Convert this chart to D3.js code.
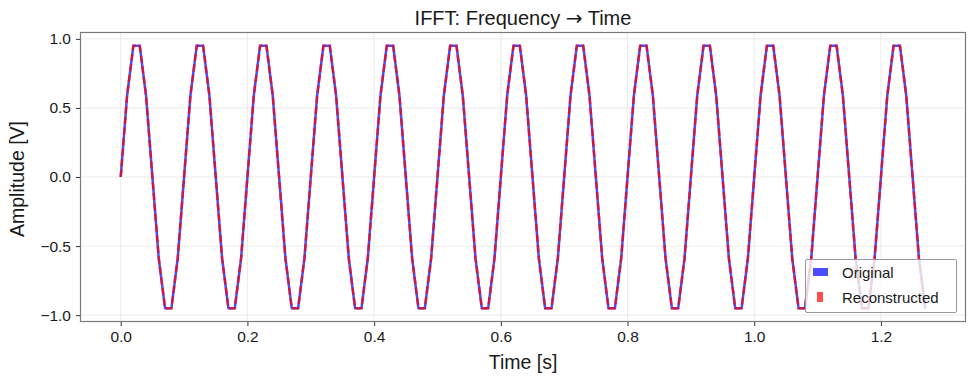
<!DOCTYPE html>
<html>
<head>
<meta charset="utf-8">
<script src="https://cdn.jsdelivr.net/npm/d3@7"></script>
<style>
html,body{margin:0;padding:0;background:#fff;}
svg{display:block;font-family:"Liberation Sans",Arial,sans-serif;}
</style>
</head>
<body>
<svg id="chart" width="974" height="383"></svg>
<script>
const time = [
0.00,0.01,0.02,0.03,0.04,0.05,0.06,0.07,0.08,0.09,
0.10,0.11,0.12,0.13,0.14,0.15,0.16,0.17,0.18,0.19,
0.20,0.21,0.22,0.23,0.24,0.25,0.26,0.27,0.28,0.29,
0.30,0.31,0.32,0.33,0.34,0.35,0.36,0.37,0.38,0.39,
0.40,0.41,0.42,0.43,0.44,0.45,0.46,0.47,0.48,0.49,
0.50,0.51,0.52,0.53,0.54,0.55,0.56,0.57,0.58,0.59,
0.60,0.61,0.62,0.63,0.64,0.65,0.66,0.67,0.68,0.69,
0.70,0.71,0.72,0.73,0.74,0.75,0.76,0.77,0.78,0.79,
0.80,0.81,0.82,0.83,0.84,0.85,0.86,0.87,0.88,0.89,
0.90,0.91,0.92,0.93,0.94,0.95,0.96,0.97,0.98,0.99,
1.00,1.01,1.02,1.03,1.04,1.05,1.06,1.07,1.08,1.09,
1.10,1.11,1.12,1.13,1.14,1.15,1.16,1.17,1.18,1.19,
1.20,1.21,1.22,1.23,1.24,1.25,1.26,1.27];

const original = [
0,0.588,0.951,0.951,0.588,0,-0.588,-0.951,-0.951,-0.588,
0,0.588,0.951,0.951,0.588,0,-0.588,-0.951,-0.951,-0.588,
0,0.588,0.951,0.951,0.588,0,-0.588,-0.951,-0.951,-0.588,
0,0.588,0.951,0.951,0.588,0,-0.588,-0.951,-0.951,-0.588,
0,0.588,0.951,0.951,0.588,0,-0.588,-0.951,-0.951,-0.588,
0,0.588,0.951,0.951,0.588,0,-0.588,-0.951,-0.951,-0.588,
0,0.588,0.951,0.951,0.588,0,-0.588,-0.951,-0.951,-0.588,
0,0.588,0.951,0.951,0.588,0,-0.588,-0.951,-0.951,-0.588,
0,0.588,0.951,0.951,0.588,0,-0.588,-0.951,-0.951,-0.588,
0,0.588,0.951,0.951,0.588,0,-0.588,-0.951,-0.951,-0.588,
0,0.588,0.951,0.951,0.588,0,-0.588,-0.951,-0.951,-0.588,
0,0.588,0.951,0.951,0.588,0,-0.588,-0.951,-0.951,-0.588,
0,0.588,0.951,0.951,0.588,0,-0.588,-0.951];

const reconstructed = [
0,0.588,0.951,0.951,0.588,0,-0.588,-0.951,-0.951,-0.588,
0,0.588,0.951,0.951,0.588,0,-0.588,-0.951,-0.951,-0.588,
0,0.588,0.951,0.951,0.588,0,-0.588,-0.951,-0.951,-0.588,
0,0.588,0.951,0.951,0.588,0,-0.588,-0.951,-0.951,-0.588,
0,0.588,0.951,0.951,0.588,0,-0.588,-0.951,-0.951,-0.588,
0,0.588,0.951,0.951,0.588,0,-0.588,-0.951,-0.951,-0.588,
0,0.588,0.951,0.951,0.588,0,-0.588,-0.951,-0.951,-0.588,
0,0.588,0.951,0.951,0.588,0,-0.588,-0.951,-0.951,-0.588,
0,0.588,0.951,0.951,0.588,0,-0.588,-0.951,-0.951,-0.588,
0,0.588,0.951,0.951,0.588,0,-0.588,-0.951,-0.951,-0.588,
0,0.588,0.951,0.951,0.588,0,-0.588,-0.951,-0.951,-0.588,
0,0.588,0.951,0.951,0.588,0,-0.588,-0.951,-0.951,-0.588,
0,0.588,0.951,0.951,0.588,0,-0.588,-0.951];

const xTicks = [0.0,0.2,0.4,0.6,0.8,1.0,1.2];
const yTicks = [-1.0,-0.5,0.0,0.5,1.0];
const seriesNames = ["Original","Reconstructed"];
const titleParts = ["IFFT: Frequency ", "\u2192", " Time"];
const xLabel = "Time [s]";
const yLabel = "Amplitude [V]";

const svg = d3.select("#chart");
const L = 80.5, R = 965.5, T = 32.5, B = 321.5;

const xMin = d3.min(time), xMax = d3.max(time);
const xPad = (xMax - xMin) * 0.05;
const yMin = Math.min(d3.min(original), d3.min(reconstructed));
const yMax = Math.max(d3.max(original), d3.max(reconstructed));
const yPad = (yMax - yMin) * 0.05;

const x = d3.scaleLinear().domain([xMin - xPad, xMax + xPad]).range([L, R]);
const y = d3.scaleLinear().domain([yMin - yPad, yMax + yPad]).range([B, T]);

// grid
const grid = svg.append("g");
grid.selectAll("line.gx").data(xTicks).join("line")
  .attr("x1", d => x(d)).attr("x2", d => x(d)).attr("y1", T).attr("y2", B)
  .attr("stroke", "#e6e6e6").attr("stroke-width", 0.8);
grid.selectAll("line.gy").data(yTicks).join("line")
  .attr("y1", d => y(d)).attr("y2", d => y(d)).attr("x1", L).attr("x2", R)
  .attr("stroke", "#e6e6e6").attr("stroke-width", 0.8);

// lines
svg.append("clipPath").attr("id","clp").append("rect")
  .attr("x", L).attr("y", T).attr("width", R-L).attr("height", B-T);
const line = d3.line().x(d => x(d[0])).y(d => y(d[1]));
const plot = svg.append("g").attr("clip-path","url(#clp)");
plot.append("path").datum(time.map((t,i)=>[t, original[i]]))
  .attr("d", line).attr("fill","none").attr("stroke","blue")
  .attr("stroke-opacity",0.7).attr("stroke-width",2.5).attr("stroke-linejoin","round");
plot.append("path").datum(time.map((t,i)=>[t, reconstructed[i]]))
  .attr("d", line).attr("fill","none").attr("stroke","red")
  .attr("stroke-opacity",0.7).attr("stroke-width",2.5)
  .attr("stroke-dasharray","7.4,3.2");

// axes
const fmt = d3.format(".1f");
const minusFmt = d => fmt(d).replace("-", "\u2212");
const xAxis = d3.axisBottom(x).tickValues(xTicks).tickFormat(minusFmt).tickSize(4.5).tickPadding(5);
const yAxis = d3.axisLeft(y).tickValues(yTicks).tickFormat(minusFmt).tickSize(4.5).tickPadding(5);
const gx = svg.append("g").attr("transform", `translate(0,${B})`).call(xAxis);
const gy = svg.append("g").attr("transform", `translate(${L},0)`).call(yAxis);
[gx, gy].forEach(g => {
  g.select(".domain").remove();
  g.selectAll(".tick line").attr("stroke", "#333").attr("stroke-width", 1);
  g.selectAll(".tick text").attr("fill", "#1a1a1a").style("font-size", "15.5px")
    .style("font-family", "'Liberation Sans',Arial,sans-serif");
});

// frame
svg.append("rect").attr("x", L).attr("y", T).attr("width", R-L).attr("height", B-T)
  .attr("fill","none").attr("stroke","#7a7a7a").attr("stroke-width",1.2);

// labels
const title = svg.append("text").attr("x", (L+R)/2).attr("y", 25).attr("text-anchor","middle")
  .style("font-size","20px").attr("fill","#1a1a1a");
title.selectAll("tspan").data(titleParts).join("tspan")
  .style("font-family", (d,i) => i === 1 ? "'DejaVu Sans',sans-serif" : null)
  .text(d => d);
svg.append("text").attr("x", (L+R)/2).attr("y", 369).attr("text-anchor","middle")
  .style("font-size","19.5px").attr("fill","#1a1a1a").text(xLabel);
svg.append("text").attr("transform", `translate(24,${(T+B)/2 + 2}) rotate(-90)`).attr("text-anchor","middle")
  .style("font-size","19.5px").attr("fill","#1a1a1a").text(yLabel);

// legend
const lg = svg.append("g");
lg.append("rect").attr("x", 805.5).attr("y", 259.5).attr("width", 151).attr("height", 53)
  .attr("fill","white").attr("fill-opacity",0.8).attr("stroke","#999").attr("stroke-width",1)
  .attr("rx",1.5);
const colors = ["blue","red"];
lg.append("rect").attr("x", 813).attr("y", 268).attr("width", 15).attr("height", 8)
  .attr("fill", colors[0]).attr("fill-opacity",0.7);
lg.append("rect").attr("x", 817).attr("y", 292).attr("width", 6).attr("height", 10)
  .attr("fill", colors[1]).attr("fill-opacity",0.7);
lg.selectAll("text.lt").data(seriesNames).join("text")
  .attr("x", 842).attr("y", (d,i) => 278 + i*25)
  .style("font-size","15px").attr("fill","#1a1a1a").text(d => d);
</script>
</body>
</html>
